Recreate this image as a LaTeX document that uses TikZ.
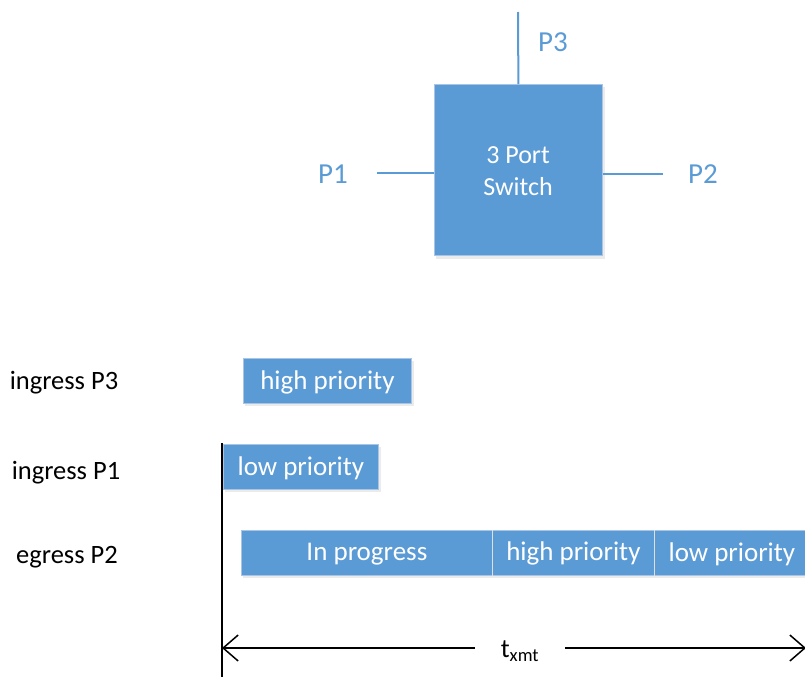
\documentclass[tikz,border=0pt]{standalone}
\usepackage{fontspec}
\setmainfont{Carlito}
\usetikzlibrary{arrows.meta,positioning}
\definecolor{swblue}{HTML}{5B9BD5}
\definecolor{swedge}{HTML}{A9C4E4}
\tikzset{
  x=1pt, y=-1pt,
  wire/.style={draw=swblue, line width=2pt},
  portlabel/.style={text=swblue, font=\fontsize{29}{32}\selectfont, inner sep=0pt},
  blockshadow/.style={fill=black, opacity=0.08},
  block/.style={fill=swblue, draw=swedge, line width=0.8pt},
  frame/.style={text=white, font=\fontsize{27}{29}\selectfont, inner sep=0pt},
  rowlabel/.style={text=black, font=\fontsize{26.5}{28}\selectfont, inner sep=0pt},
  segsep/.style={draw=white!75!gray, line width=0.8pt},
  timeline/.style={draw=black, line width=1.5pt},
  span/.style={draw=black, line width=1.5pt, arrows={-Straight Barb[length=15pt,width=26pt,line width=1.5pt]}}
}
\begin{document}
\begin{tikzpicture}
\useasboundingbox (0,0) rectangle (805,677);

% --- the switch and its three ports ---
\fill[blockshadow] (436,87) rectangle (605,259);
\node[block, minimum width=168pt, minimum height=171pt, anchor=north west, inner sep=0pt] (sw) at (434,84) {};
\node[frame, align=center, font=\fontsize{26}{32}\selectfont] (swtext) at (518,171) {3 Port\\Switch};
\coordinate (p3end) at (518,12);
\coordinate (p1end) at (377,173);
\coordinate (p2end) at (663,174);
\draw[wire] (sw.north) -- (p3end);
\draw[wire] (sw.west |- p1end) -- (p1end);
\draw[wire] (sw.east |- p2end) -- (p2end);
\node[portlabel] (p3) at (553,42) {P3};
\node[portlabel] (p1) at (333,174) {P1};
\node[portlabel] (p2) at (703,174) {P2};

% --- row captions ---
\node[rowlabel] (r3) at (64,383) {ingress P3};
\node[rowlabel] (r1) at (66,473) {ingress P1};
\node[rowlabel] (r2) at (67,557) {egress P2};

% --- frames on each port ---
\fill[blockshadow] (245,361) rectangle (414,406);
\node[block, minimum width=168pt, minimum height=45pt, anchor=north west, inner sep=0pt] (hp3) at (243,358) {};
\node[frame] at ([yshift=-2pt]hp3.center) {high priority};

\fill[blockshadow] (225,447) rectangle (381,492);
\node[block, minimum width=155pt, minimum height=45pt, anchor=north west, inner sep=0pt] (lp1) at (223,444) {};
\node[frame] at ([yshift=-1pt]lp1.center) {low priority};

\fill[blockshadow] (243,533) rectangle (805,578);
\node[block, minimum width=251pt, minimum height=45pt, anchor=north west, inner sep=0pt] (eg1) at (241,530) {};
\node[block, minimum width=162pt, minimum height=45pt, anchor=north west, inner sep=0pt] (eg2) at (492,530) {};
\node[block, minimum width=155pt, minimum height=45pt, anchor=north west, inner sep=0pt] (eg3) at (654,530) {};
\draw[segsep] (eg1.north east) -- (eg1.south east);
\draw[segsep] (eg2.north east) -- (eg2.south east);
\node[frame] at ([yshift=-1pt]eg1.center) {In progress};
\node[frame] at ([yshift=-1pt]eg2.center) {high priority};
\node[frame] at ([yshift=-1pt]eg3.center) {low priority};

% --- transmit time span ---
\coordinate (ttop) at (222,443);
\coordinate (tbot) at (222,677);
\draw[timeline] (ttop) -- (tbot);
\coordinate (tleft) at (222,648);
\coordinate (tright) at (806,648);
\node[rowlabel, minimum width=90pt, minimum height=20pt] (txmt) at (520,651) {t\textsubscript{xmt}};
\draw[span] (txmt.west |- tleft) -- (tleft);
\draw[span] (txmt.east |- tright) -- (tright);
\end{tikzpicture}
\end{document}
